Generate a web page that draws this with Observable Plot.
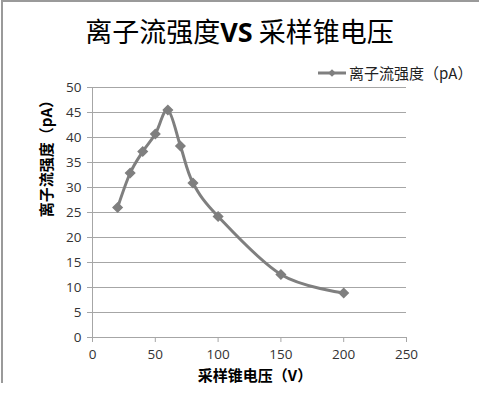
<!DOCTYPE html>
<html>
<head>
<meta charset="utf-8">
<script src="https://cdn.jsdelivr.net/npm/d3@7"></script>
<script src="https://cdn.jsdelivr.net/npm/@observablehq/plot@0.6"></script>
<style>
  body { margin: 0; background: #fff; }
  #wrap { position: relative; width: 479px; height: 399px; overflow: hidden; background: #fff;
          font-family: "Open Sans", "Noto Sans CJK SC", sans-serif; }
  #frame { position: absolute; left: 1px; top: 0; width: 478px; height: 383px;
           border-top: 2px solid #9a9a9a; border-left: 2px solid #9a9a9a; box-sizing: border-box; }
  #title { position: absolute; left: 0; width: 479px; top: 11px; text-align: center;
           font-size: 27px; color: #000; font-family: "Noto Sans CJK SC", sans-serif; white-space: nowrap; }
  #title b { font-family: "Open Sans", sans-serif; font-weight: 700; }
  #legend { position: absolute; left: 318px; top: 62px; font-size: 15px; color: #222;
            font-family: "Noto Sans CJK SC", sans-serif; display: flex; align-items: center; white-space: nowrap; }
  #ylab { position: absolute; left: 45px; top: 155px; transform: translate(-50%, -50%) rotate(-90deg);
          font-size: 15px; font-weight: 700; color: #000; white-space: nowrap;
          font-family: "Noto Sans CJK SC", sans-serif; }
  #xlab { position: absolute; left: 255px; top: 374px; transform: translate(-50%, -50%);
          font-size: 15px; font-weight: 700; color: #000; white-space: nowrap;
          font-family: "Noto Sans CJK SC", sans-serif; }
  #chart svg { position: absolute; left: 0; top: 0; }
</style>
</head>
<body>
<div id="wrap">
  <div id="chart"></div>
  <div id="frame"></div>
  <div id="title"></div>
  <div id="legend"></div>
  <div id="ylab"></div>
  <div id="xlab"></div>
</div>
<script>
const titleMain = "离子流强度";
const titleVs = "VS";
const titleRest = " 采样锥电压";
const seriesName = "离子流强度（pA）";
const yLabel = "离子流强度（pA）";
const xLabel = "采样锥电压（V）";

const voltage = [20, 30, 40, 50, 60, 70, 80, 100, 150, 200];
const intensity = [26.0, 32.9, 37.2, 40.7, 45.5, 38.3, 30.9, 24.2, 12.6, 8.9];

const xTicks = [0, 50, 100, 150, 200, 250];
const yTicks = [0, 5, 10, 15, 20, 25, 30, 35, 40, 45, 50];

const data = voltage.map((v, i) => ({v, y: intensity[i]}));

const lineColor = "#7f7f7f";
const gridColor = "#a6a6a6";

const chart = Plot.plot({
  width: 479,
  height: 399,
  marginLeft: 92,
  marginRight: 73,
  marginTop: 87,
  marginBottom: 62,
  style: {fontFamily: "'Open Sans', sans-serif", fontSize: "13.5px", color: "#333", background: "transparent"},
  x: {domain: [0, 250], ticks: xTicks, label: null},
  y: {domain: [0, 50], ticks: yTicks, label: null},
  marks: [
    Plot.gridY(yTicks, {stroke: gridColor, strokeOpacity: 1, strokeWidth: 1}),
    Plot.axisY(yTicks, {tickSize: 5, tickPadding: 6, stroke: gridColor, label: null, fill: "#333"}),
    Plot.axisX(xTicks, {tickSize: 5, tickPadding: 7, stroke: gridColor, label: null, fill: "#333"}),
    Plot.ruleX([0], {stroke: gridColor}),
    Plot.ruleY([0], {stroke: gridColor}),
    Plot.line(data, {x: "v", y: "y", stroke: lineColor, strokeWidth: 3, curve: "cardinal"}),
    Plot.dot(data, {x: "v", y: "y", symbol: "square", rotate: 45, r: 3.6, fill: lineColor, stroke: lineColor})
  ]
});
document.getElementById("chart").appendChild(chart);

document.getElementById("title").innerHTML = titleMain + "<b>" + titleVs + "</b>" + titleRest;
document.getElementById("ylab").textContent = yLabel;
document.getElementById("xlab").textContent = xLabel;

const legend = document.getElementById("legend");
const sw = d3.create("svg").attr("width", 28).attr("height", 12).style("margin-right", "3px");
sw.append("line").attr("x1", 0).attr("x2", 28).attr("y1", 6).attr("y2", 6)
  .attr("stroke", lineColor).attr("stroke-width", 3);
sw.append("path").attr("d", d3.symbol(d3.symbolSquare, 30)()).attr("transform", "translate(14,6) rotate(45)")
  .attr("fill", lineColor);
legend.appendChild(sw.node());
const lt = document.createElement("span");
lt.textContent = seriesName;
legend.appendChild(lt);
</script>
</body>
</html>
